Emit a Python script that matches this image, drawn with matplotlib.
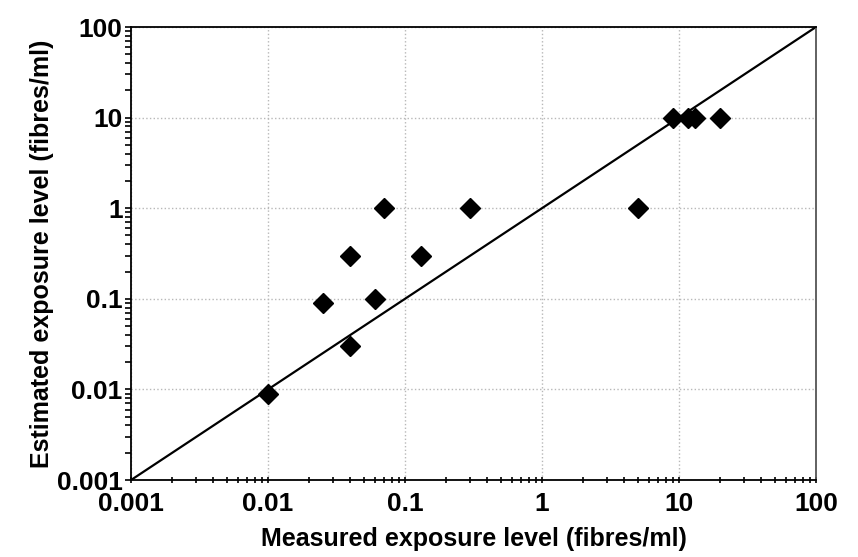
import matplotlib.pyplot as plt
from matplotlib.ticker import LogLocator, FixedFormatter, FixedLocator, NullFormatter

plt.rcParams['font.family'] = ['Liberation Sans', 'DejaVu Sans']
plt.rcParams['font.weight'] = 'bold'

# measured vs estimated exposure (fibres/ml)
measured = [0.01, 0.025, 0.04, 0.04, 0.06, 0.07, 0.13, 0.3, 5, 9, 11.6, 13, 20]
estimated = [0.009, 0.09, 0.3, 0.03, 0.1, 1, 0.3, 1, 1, 10, 10, 10, 10]

ticks = [0.001, 0.01, 0.1, 1, 10, 100]
tick_labels = ['0.001', '0.01', '0.1', '1', '10', '100']

fig = plt.figure(figsize=(8.58, 5.57), dpi=100)
ax = fig.add_axes([0.1527, 0.1382, 0.7983, 0.8133])

ax.set_xscale('log')
ax.set_yscale('log')
ax.set_xlim(0.001, 100)
ax.set_ylim(0.001, 100)

# 1:1 line
ax.plot([0.001, 100], [0.001, 100], color='black', lw=1.6, zorder=2)
ax.plot(measured, estimated, linestyle='none', marker='D', markersize=10.5,
        color='black', zorder=3)

ax.grid(True, which='major', linestyle=':', color='#b8b8b8', lw=1.0, zorder=0)

for axis in (ax.xaxis, ax.yaxis):
    axis.set_major_locator(FixedLocator(ticks))
    axis.set_major_formatter(FixedFormatter(tick_labels))
    axis.set_minor_locator(LogLocator(base=10, subs=range(2, 10)))
    axis.set_minor_formatter(NullFormatter())

ax.tick_params(axis='both', which='both', labelsize=19, width=1.2, color='black')
ax.tick_params(axis='x', which='both', direction='inout', length=5)
ax.tick_params(axis='y', which='both', direction='out', length=4, pad=2)
ax.tick_params(axis='x', which='major', pad=6)

for s in ax.spines.values():
    s.set_linewidth(1.3)
ax.spines['right'].set_color('#555555')

ax.set_xlabel('Measured exposure level (fibres/ml)', fontsize=18, fontweight='bold',
              labelpad=8)
ax.set_ylabel('Estimated exposure level (fibres/ml)', fontsize=18, fontweight='bold',
              labelpad=2)

fig.savefig('out.png', dpi=100)
